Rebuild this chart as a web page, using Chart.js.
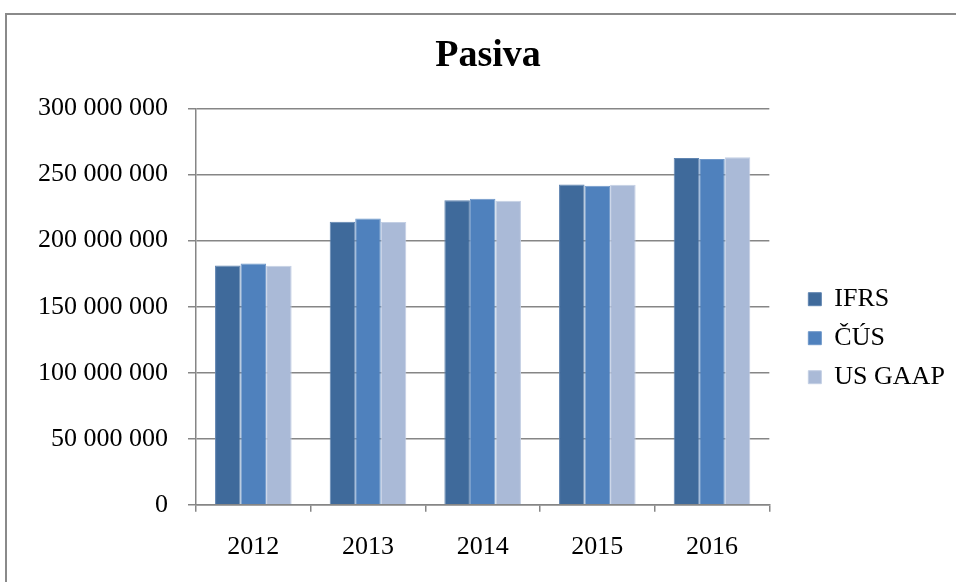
<!DOCTYPE html>
<html>
<head>
<meta charset="utf-8">
<script src="https://cdn.jsdelivr.net/npm/chart.js@4/dist/chart.umd.min.js"></script>
<style>
  html, body { margin: 0; padding: 0; background: #fff; overflow: hidden; width: 956px; height: 582px; }
  #frame { position: absolute; left: 5px; top: 13px; width: 1100px; height: 700px; border: 2px solid #8a8a8a; }
  #wrap { position: absolute; left: 0; top: 0; width: 980px; height: 588px; }
</style>
</head>
<body>
<div id="frame"></div>
<div id="wrap"><canvas id="chart"></canvas></div>
<script>
// Pasiva by accounting standard, 2012-2016
const years = ['2012', '2013', '2014', '2015', '2016'];
const ifrs = [181200000, 214400000, 230600000, 242600000, 262600000];
const cus = [182700000, 216700000, 231700000, 241600000, 261800000];
const usGaap = [181000000, 214200000, 230200000, 242400000, 263100000];
const yTicks = [0, 50000000, 100000000, 150000000, 200000000, 250000000, 300000000];

const FONT = "'Liberation Serif', 'Times New Roman', serif";

function spaced(v) {
    return String(v).replace(/\B(?=(\d{3})+(?!\d))/g, ' ');
}

const ctx = document.getElementById('chart');
new Chart(ctx, {
    type: 'bar',
    data: {
        labels: years,
        datasets: [
            { label: 'IFRS', data: ifrs, backgroundColor: '#3F6A9B', borderColor: '#5F84B0' },
            { label: 'ČÚS', data: cus, backgroundColor: '#4F81BD', borderColor: '#6E97C9' },
            { label: 'US GAAP', data: usGaap, backgroundColor: '#AABAD7', borderColor: '#C3CFE4' }
        ]
    },
    options: {
        responsive: true,
        maintainAspectRatio: false,
        animation: false,
        datasets: {
            bar: {
                borderWidth: 1,
                categoryPercentage: 0.668,
                barPercentage: 1
            }
        },
        layout: {
            padding: { left: 27, right: 31, top: 0, bottom: 5 }
        },
        plugins: {
            title: {
                display: true,
                text: 'Pasiva',
                color: '#000',
                font: { family: FONT, size: 38, weight: 'bold' },
                padding: { top: 33, bottom: 30 }
            },
            legend: {
                position: 'right',
                title: { display: true, text: '', padding: { top: 79, bottom: 0 } },
                labels: {
                    color: '#000',
                    font: { family: FONT, size: 26 },
                    boxWidth: 13,
                    boxHeight: 13,
                    padding: 13
                }
            },
            tooltip: { enabled: false }
        },
        scales: {
            x: {
                grid: {
                    display: true,
                    drawOnChartArea: false,
                    drawTicks: true,
                    tickLength: 7,
                    offset: true,
                    color: '#868686',
                    lineWidth: 1.5
                },
                border: { display: true, color: '#868686', width: 1.5 },
                ticks: {
                    color: '#000',
                    font: { family: FONT, size: 26 },
                    padding: 20
                }
            },
            y: {
                min: 0,
                max: 300000000,
                afterBuildTicks: (scale) => {
                    scale.ticks = yTicks.map(v => ({ value: v }));
                },
                afterFit: (scale) => { scale.width = 169; },
                grid: {
                    color: '#868686',
                    lineWidth: 1.5,
                    tickLength: 8
                },
                border: { display: true, color: '#868686', width: 1.5 },
                ticks: {
                    color: '#000',
                    font: { family: FONT, size: 26 },
                    padding: 20,
                    callback: (value) => spaced(value)
                }
            },
            gap: {
                position: 'right',
                display: true,
                grid: { display: false },
                border: { display: false },
                ticks: { display: false },
                afterFit: (scale) => { scale.width = 26; }
            }
        }
    }
});
</script>
</body>
</html>
